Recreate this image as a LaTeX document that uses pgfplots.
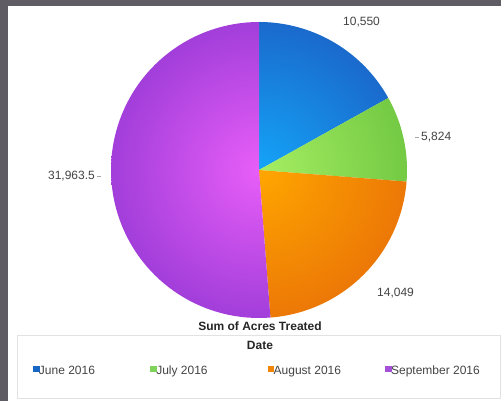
\documentclass[border=0pt]{standalone}
\usepackage{pgfplots}
\usepackage{pgfplotstable}
\pgfplotsset{compat=1.18}
\usepackage{fontspec}
\setmainfont{Liberation Sans}

\definecolor{frame}{HTML}{5F5C64}
\definecolor{labelgray}{HTML}{444444}
\definecolor{boxgray}{HTML}{E2E2E2}
% slice colours: light (centre) and dark (rim), plus legend swatch
\definecolor{juneIn}{HTML}{14A4F8}
\definecolor{juneOut}{HTML}{1A6ACC}
\definecolor{juneKey}{HTML}{1867C4}
\definecolor{julyIn}{HTML}{A6EE62}
\definecolor{julyOut}{HTML}{74CA44}
\definecolor{julyKey}{HTML}{7ED35A}
\definecolor{augIn}{HTML}{FFA600}
\definecolor{augOut}{HTML}{EC7806}
\definecolor{augKey}{HTML}{F0850A}
\definecolor{sepIn}{HTML}{E85EF8}
\definecolor{sepOut}{HTML}{A23EDA}
\definecolor{sepKey}{HTML}{A64FD8}

\pgfplotstableread{
month value
June 10550
July 5824
August 14049
September 31963.5
}\acres

\begin{document}
\begin{tikzpicture}
\pgfplotstablegetelem{0}{value}\of\acres \let\vA\pgfplotsretval
\pgfplotstablegetelem{1}{value}\of\acres \let\vB\pgfplotsretval
\pgfplotstablegetelem{2}{value}\of\acres \let\vC\pgfplotsretval
\pgfplotstablegetelem{3}{value}\of\acres \let\vD\pgfplotsretval
\edef\total{\fpeval{\vA+\vB+\vC+\vD}}
% slice boundaries, clockwise from 12 o'clock
\edef\aA{90}
\edef\aB{\fpeval{90-360*\vA/\total}}
\edef\aC{\fpeval{\aB-360*\vB/\total}}
\edef\aD{\fpeval{\aC-360*\vC/\total}}
\edef\aE{-270}
\def\cx{259}\def\cy{231}\def\r{148}
\begin{axis}[
    scale only axis,
    width=501pt, height=401pt,
    xmin=0, xmax=501, ymin=0, ymax=401,
    hide axis, clip=false,
    samples=80,
    legend columns=4,
    legend style={draw=none, fill=none, at={(0.0659,0.0748)}, anchor=west,
      inner sep=0pt, outer sep=0pt,
      nodes={inner sep=0pt, font=\fontsize{12}{14}\selectfont, text=labelgray}},
    legend image code/.code={\fill[#1] (0pt,0pt) rectangle (5.5pt,5.5pt);},
  ]
  % frame and legend box
  \fill[frame] (axis cs:0,0) rectangle (axis cs:501,401);
  \fill[white] (axis cs:8,0) rectangle (axis cs:501,395);
  \draw[boxgray, line width=0.8pt] (axis cs:17,3) rectangle (axis cs:500,66);

  % slices; the extra moves stretch each shading over the whole disc
  \addplot[draw=none, inner color=juneIn, outer color=juneOut, domain=\aB:\aA, forget plot]
    ({\cx+\r*cos(x)},{\cy+\r*sin(x)}) -- (axis cs:\cx,\cy) -- cycle
    (axis cs:111,83) (axis cs:407,379);
  \addplot[draw=none, inner color=julyIn, outer color=julyOut, domain=\aC:\aB, forget plot]
    ({\cx+\r*cos(x)},{\cy+\r*sin(x)}) -- (axis cs:\cx,\cy) -- cycle
    (axis cs:111,83) (axis cs:407,379);
  \addplot[draw=none, inner color=augIn, outer color=augOut, domain=\aD:\aC, forget plot]
    ({\cx+\r*cos(x)},{\cy+\r*sin(x)}) -- (axis cs:\cx,\cy) -- cycle
    (axis cs:111,83) (axis cs:407,379);
  \addplot[draw=none, inner color=sepIn, outer color=sepOut, domain=\aE:\aD, forget plot]
    ({\cx+\r*cos(x)},{\cy+\r*sin(x)}) -- (axis cs:\cx,\cy) -- cycle
    (axis cs:111,83) (axis cs:407,379);

  % value labels
  \pgfkeys{/pgf/number format/.cd, fixed, precision=1, 1000 sep={,}, assume math mode=true}
  \begin{scope}[every node/.style={font=\fontsize{12}{14}\selectfont, text=labelgray, inner sep=0pt}]
    \node[anchor=base west] at (axis cs:343,375) {\pgfmathprintnumber{\vA}};
    \node[anchor=base west] at (axis cs:421,260) {\pgfmathprintnumber{\vB}};
    \node[anchor=base west] at (axis cs:377,104) {\pgfmathprintnumber{\vC}};
    \node[anchor=base east] at (axis cs:95,221) {\pgfmathprintnumber{\vD}};
    \node[anchor=base, font=\fontsize{12}{14}\selectfont\bfseries, text=black!85] at (axis cs:260,70) {Sum of Acres Treated};
    \node[anchor=base, font=\fontsize{12}{14}\selectfont\bfseries, text=black!85] at (axis cs:260,51) {Date};
  \end{scope}
  \draw[black!35, line width=0.6pt] (axis cs:415,264) -- (axis cs:419,264);
  \draw[black!35, line width=0.6pt] (axis cs:97,225) -- (axis cs:101,225);

  \addlegendimage{juneKey}
  \addlegendentry{\makebox[111.5pt][l]{June 2016}}
  \addlegendimage{julyKey}
  \addlegendentry{\makebox[111.5pt][l]{July 2016}}
  \addlegendimage{augKey}
  \addlegendentry{\makebox[111.5pt][l]{August 2016}}
  \addlegendimage{sepKey}
  \addlegendentry{\makebox[100pt][l]{September 2016}}
\end{axis}
\end{tikzpicture}
\end{document}
